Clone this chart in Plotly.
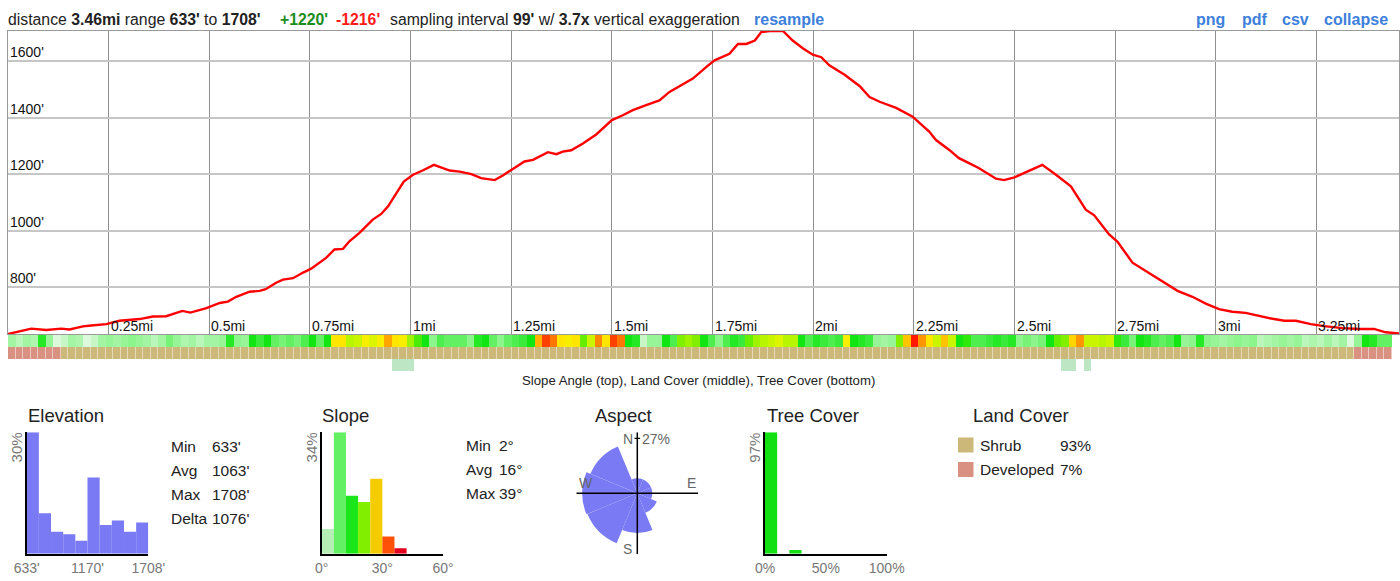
import numpy as np
import plotly.graph_objects as go

W, H = 1400, 581
FONT = "Liberation Sans, Arial, Helvetica, sans-serif"

# ---------------- data ----------------
dist_mi = [0.000, 0.058, 0.095, 0.132, 0.153, 0.186, 0.207, 0.244, 0.277, 0.327, 0.360, 0.393,
           0.433, 0.453, 0.493, 0.526, 0.546, 0.567, 0.600, 0.625, 0.640, 0.666, 0.683, 0.708,
           0.733, 0.753, 0.790, 0.811, 0.832, 0.848, 0.873, 0.906, 0.927, 0.944, 0.983, 1.006,
           1.031, 1.058, 1.097, 1.122, 1.151, 1.175, 1.209, 1.229, 1.250, 1.283, 1.304, 1.325,
           1.341, 1.362, 1.378, 1.399, 1.428, 1.461, 1.500, 1.527, 1.552, 1.585, 1.618, 1.643,
           1.668, 1.701, 1.734, 1.755, 1.792, 1.813, 1.834, 1.855, 1.871, 1.892, 1.925, 1.949,
           1.974, 1.999, 2.020, 2.040, 2.078, 2.115, 2.140, 2.165, 2.206, 2.247, 2.288, 2.305,
           2.338, 2.362, 2.387, 2.412, 2.454, 2.474, 2.500, 2.536, 2.569, 2.603, 2.640, 2.677,
           2.698, 2.735, 2.756, 2.793, 2.826, 2.868, 2.905, 2.942, 2.975, 3.008, 3.041, 3.074,
           3.095, 3.141, 3.170, 3.199, 3.236, 3.269, 3.315, 3.356, 3.393, 3.422, 3.455]
elev_ft = [633, 652, 647, 652, 649, 660, 663, 668, 680, 686, 695, 696,
           715, 709, 725, 743, 748, 765, 783, 786, 792, 815, 826, 831,
           851, 865, 903, 933, 935, 962, 992, 1039, 1059, 1086, 1174, 1198,
           1214, 1233, 1213, 1209, 1200, 1186, 1179, 1195, 1215, 1245, 1251, 1268,
           1278, 1271, 1280, 1285, 1309, 1341, 1392, 1409, 1427, 1445, 1462, 1492,
           1513, 1539, 1580, 1604, 1627, 1662, 1662, 1674, 1704, 1708, 1708, 1674,
           1647, 1624, 1615, 1586, 1553, 1513, 1474, 1457, 1435, 1404, 1351, 1321,
           1286, 1257, 1239, 1221, 1184, 1179, 1189, 1212, 1233, 1198, 1157, 1074,
           1054, 986, 960, 886, 857, 821, 786, 765, 741, 721, 712, 708,
           701, 687, 680, 680, 668, 661, 654, 651, 651, 639, 635]

dist_range = [0, 3.455]
elev_range = [633, 1708]

x_tick_vals = [0.25, 0.5, 0.75, 1.0, 1.25, 1.5, 1.75, 2.0, 2.25, 2.5, 2.75, 3.0, 3.25]
x_tick_text = ["0.25mi", "0.5mi", "0.75mi", "1mi", "1.25mi", "1.5mi", "1.75mi", "2mi",
               "2.25mi", "2.5mi", "2.75mi", "3mi", "3.25mi"]
y_tick_vals = [800, 1000, 1200, 1400, 1600]
y_tick_text = ["800'", "1000'", "1200'", "1400'", "1600'"]

# slope angle (degrees) for each sample cell along the route
slope_deg = [8, 6, 8, 7, 15, 9, 3, 5, 8, 7,
             3, 5, 8, 9, 8, 9, 10, 9, 8, 6,
             8, 11, 9, 7, 8, 6, 8, 8, 9, 15,
             10, 9, 16, 14, 16, 12, 11, 12, 11, 13,
             16, 12, 16, 27, 27, 22, 23, 26, 24, 26,
             31, 27, 26, 21, 18, 16, 10, 13, 12, 12, 12,
             10, 15, 16, 12, 10, 12, 13, 14, 16, 30,
             37, 34, 27, 26, 27, 19, 23, 33, 27, 37,
             34, 16, 15, 5, 9, 9, 16, 13, 20, 21,
             20, 16, 13, 10, 13, 15, 14, 19, 21, 22,
             23, 24, 22, 22, 16, 13, 15, 14, 13, 14,
             26, 16, 15, 14, 9, 8, 9, 20, 29, 39, 32, 27,
             23, 29, 23, 16, 17, 13, 13, 14, 15, 14,
             15, 10, 11, 10, 11, 16, 19, 20, 28, 32,
             23, 23, 22, 23, 17, 14, 11, 16, 15, 13,
             12, 13, 16, 9, 10, 15, 10, 9, 8, 9,
             10, 9, 10, 6, 7, 8, 9, 8, 9, 6,
             7, 6, 8, 6, 8, 3, 9, 16, 15, 12, 12]
# land cover per cell: 0 = Shrub, 1 = Developed
land_cover_code = [1] * 7 + [0] * 172 + [1] * 5
# tree cover (%) per cell
tree_cover_pct = [0] * 184
for i in (51, 52, 53, 140, 141, 143):
    tree_cover_pct[i] = 25

elev_hist_pct = [30, 10, 5.4, 4.8, 3.2, 18.8, 7.1, 8.2, 5.4, 7.7]
elev_hist_ticks = ["633'", "1170'", "1708'"]
slope_hist_pct = [6.9, 34, 16.2, 14.5, 21, 4.8, 1.5]
slope_hist_colors = ['#b5efb5', '#63f063', '#1ae61a', '#80f000', '#f4cc00', '#ff5208', '#e4001c']
tree_hist_pct = [97, 0, 3, 0, 0, 0, 0, 0, 0, 0]
aspect_dirs = [0, 45, 90, 135, 180, 225, 270, 315]
aspect_pct = [2, 2, 2, 4, 14, 26, 27, 23]

elev_stats = [("Min", "633'"), ("Avg", "1063'"), ("Max", "1708'"), ("Delta", "1076'")]
slope_stats = [("Min", "2°"), ("Avg", "16°"), ("Max", "39°")]
land_classes = [("Shrub", "93%", '#ccb879'), ("Developed", "7%", '#d99282')]

slope_scale = [[0 / 45, '#f2fff2'], [4 / 45, '#d4f7d4'], [7 / 45, '#aef5ae'], [10 / 45, '#8cf58c'],
               [13 / 45, '#4fee4f'], [16 / 45, '#12e612'], [19 / 45, '#66ee00'], [22 / 45, '#b8f500'],
               [25 / 45, '#eef500'], [27 / 45, '#ffe600'], [30 / 45, '#ffb300'], [33 / 45, '#ff8800'],
               [36 / 45, '#ff5500'], [39 / 45, '#ff1a00'], [45 / 45, '#e00000']]


# ---------------- helpers ----------------
def xdom(a, b):
    return [a / W, b / W]


def ydom(top, bottom):
    return [1 - bottom / H, 1 - top / H]


def px(a):
    return a / W


def py(b):
    return 1 - b / H


annotations = []


def text(x, y, s, size=14, color='#222', xanchor='left', yanchor='middle', angle=0):
    annotations.append(dict(x=px(x), y=py(y), xref='paper', yref='paper', text=s,
                            showarrow=False, xanchor=xanchor, yanchor=yanchor, textangle=angle,
                            borderpad=0, borderwidth=0,
                            font=dict(family=FONT, size=size, color=color)))


fig = go.Figure()

# main profile
fig.add_trace(go.Scatter(x=dist_mi, y=elev_ft, mode='lines', line=dict(color='#ff0000', width=2.4),
                         xaxis='x', yaxis='y', hoverinfo='skip', showlegend=False))

# strips
fig.add_trace(go.Heatmap(z=[slope_deg], xaxis='x2', yaxis='y2', colorscale=slope_scale,
                         zmin=0, zmax=45, showscale=False, hoverinfo='skip'))
fig.add_trace(go.Heatmap(z=[land_cover_code], xaxis='x3', yaxis='y3',
                         colorscale=[[0, '#ccb879'], [1, '#d99282']], zmin=0, zmax=1,
                         showscale=False, hoverinfo='skip', xgap=0.5))
fig.add_trace(go.Heatmap(z=[tree_cover_pct], xaxis='x4', yaxis='y4',
                         colorscale=[[0, '#ffffff'], [1, '#bde6c4']], zmin=0, zmax=25,
                         showscale=False, hoverinfo='skip'))

# elevation histogram
nb = len(elev_hist_pct)
bw = (elev_range[1] - elev_range[0]) / nb
elev_centers = [elev_range[0] + (k + 0.5) * bw for k in range(nb)]
fig.add_trace(go.Bar(x=elev_centers, y=elev_hist_pct, width=bw,
                     marker=dict(color='#7a7af5', line=dict(width=0)),
                     xaxis='x5', yaxis='y5', showlegend=False, hoverinfo='skip'))

# slope histogram
slope_centers = [3 + 6 * k for k in range(len(slope_hist_pct))]
fig.add_trace(go.Bar(x=slope_centers, y=slope_hist_pct, width=6,
                     marker=dict(color=slope_hist_colors, line=dict(width=0)),
                     xaxis='x6', yaxis='y6', showlegend=False, hoverinfo='skip'))

# tree cover histogram
tree_centers = [5 + 10 * k for k in range(len(tree_hist_pct))]
fig.add_trace(go.Bar(x=tree_centers, y=tree_hist_pct, width=10,
                     marker=dict(color='#13e013', line=dict(width=0)),
                     xaxis='x7', yaxis='y7', showlegend=False, hoverinfo='skip'))

# aspect rose (radius ~ sqrt of share)
rmax_pct = max(aspect_pct)
R_axis = np.sqrt(rmax_pct) * 61 / 55
fig.add_trace(go.Barpolar(r=np.sqrt(aspect_pct), theta=aspect_dirs, width=45,
                          marker=dict(color='#7a7af5', line=dict(width=0)),
                          subplot='polar', showlegend=False, hoverinfo='skip'))
for th in (0, 90):
    fig.add_trace(go.Scatterpolar(r=[R_axis, 0, R_axis], theta=[th, th, th + 180], mode='lines',
                                  line=dict(color='black', width=1.5), subplot='polar',
                                  showlegend=False, hoverinfo='skip'))
r0 = np.sqrt(rmax_pct)
d = 2.8 * R_axis / 61
a = np.degrees(np.arctan(d / r0))
fig.add_trace(go.Scatterpolar(r=[np.hypot(r0, d)] * 2, theta=[-a, a], mode='lines',
                              line=dict(color='black', width=1.2), subplot='polar',
                              showlegend=False, hoverinfo='skip'))

# ---------------- axes ----------------
hidden = dict(visible=False, fixedrange=True, automargin=False)
layout = dict(
    width=W, height=H, autosize=False,
    margin=dict(l=0, r=0, t=0, b=0, pad=0, autoexpand=False),
    paper_bgcolor='white', plot_bgcolor='white', showlegend=False,
    xaxis=dict(domain=xdom(8, 1399), range=dist_range, tickvals=x_tick_vals, showticklabels=False,
               ticks='', showgrid=True, gridcolor='#8e8e8e', gridwidth=1, zeroline=False,
               showline=True, mirror=True, linecolor='#9a9a9a', linewidth=1, automargin=False),
    yaxis=dict(domain=ydom(31, 334), range=elev_range, tickvals=y_tick_vals, showticklabels=False,
               ticks='', showgrid=True, gridcolor='#c6c6c6', gridwidth=1.5, zeroline=False,
               showline=True, mirror=True, linecolor='#9a9a9a', linewidth=1, automargin=False),
    xaxis2=dict(domain=xdom(8, 1392), range=[-0.5, len(slope_deg) - 0.5], anchor='y2', **hidden),
    yaxis2=dict(domain=ydom(335, 347), range=[-0.5, 0.5], anchor='x2', **hidden),
    xaxis3=dict(domain=xdom(8, 1392), range=[-0.5, len(slope_deg) - 0.5], anchor='y3', **hidden),
    yaxis3=dict(domain=ydom(347, 359), range=[-0.5, 0.5], anchor='x3', **hidden),
    xaxis4=dict(domain=xdom(8, 1392), range=[-0.5, len(slope_deg) - 0.5], anchor='y4', **hidden),
    yaxis4=dict(domain=ydom(359, 371), range=[-0.5, 0.5], anchor='x4', **hidden),
)

hist_x = dict(showline=True, linecolor='black', linewidth=2, ticks='', showgrid=False, zeroline=False,
              tickfont=dict(family=FONT, size=14, color='#777'), fixedrange=True, automargin=False)
hist_y = dict(showline=True, linecolor='black', linewidth=2, ticks='', showgrid=False, zeroline=False,
              showticklabels=False, fixedrange=True, automargin=False)

layout['xaxis5'] = dict(domain=xdom(26.7, 148.3), range=elev_range, anchor='y5',
                        tickvals=[elev_range[0], (elev_range[0] + elev_range[1]) / 2, elev_range[1]],
                        ticktext=elev_hist_ticks, **hist_x)
layout['yaxis5'] = dict(domain=ydom(432.3, 553.7), range=[0, max(elev_hist_pct)], anchor='x5', **hist_y)
layout['xaxis6'] = dict(domain=xdom(321.7, 443), range=[0, 60], anchor='y6',
                        tickvals=[0, 30, 60], ticktext=["0°", "30°", "60°"], **hist_x)
layout['yaxis6'] = dict(domain=ydom(432.3, 553.7), range=[0, max(slope_hist_pct)], anchor='x6', **hist_y)
layout['xaxis7'] = dict(domain=xdom(765, 886.7), range=[0, 100], anchor='y7',
                        tickvals=[0, 50, 100], ticktext=["0%", "50%", "100%"], **hist_x)
layout['yaxis7'] = dict(domain=ydom(432.3, 553.7), range=[0, max(tree_hist_pct)], anchor='x7', **hist_y)

layout['polar'] = dict(domain=dict(x=xdom(576.3, 698.3), y=ydom(432.3, 554.3)),
                       bgcolor='rgba(0,0,0,0)',
                       radialaxis=dict(visible=False, range=[0, R_axis]),
                       angularaxis=dict(visible=False, direction='clockwise', rotation=90))

# ---------------- texts ----------------
# header
HS = 15.8
text(8, 19.5, "distance <b>3.46mi</b> range <b>633'</b> to <b>1708'</b>", size=HS)
text(280, 19.5, "<b>+1220'</b>", color='#1e8c1e', size=HS)
text(336, 19.5, "<b>-1216'</b>", color='#ff1a1a', size=HS)
text(390, 19.5, "sampling interval <b>99'</b> w/ <b>3.7x</b> vertical exaggeration", size=HS)
blue = '#3d7fdb'
text(754, 19.5, "<b>resample</b>", color=blue, size=16)
for xx, s in ((1196, "png"), (1242, "pdf"), (1282, "csv"), (1324, "collapse")):
    text(xx, 19.5, "<b>%s</b>" % s, color=blue, size=16)

# main axis labels inside the plot
for v, t in zip(x_tick_vals, x_tick_text):
    annotations.append(dict(x=v, y=elev_range[0], xref='x', yref='y', text=t, showarrow=False,
                            xanchor='left', yanchor='bottom', xshift=2, yshift=0,
                            borderpad=0, borderwidth=0,
                            font=dict(family=FONT, size=14, color='#111')))
for v, t in zip(y_tick_vals, y_tick_text):
    annotations.append(dict(x=dist_range[0], y=v, xref='x', yref='y', text=t, showarrow=False,
                            xanchor='left', yanchor='bottom', xshift=2, yshift=1,
                            borderpad=0, borderwidth=0,
                            font=dict(family=FONT, size=14, color='#111')))

text(698, 380, "Slope Angle (top), Land Cover (middle), Tree Cover (bottom)", size=13.2,
     xanchor='center')

# panel titles
for xx, s in ((27.7, "Elevation"), (321.7, "Slope"), (595, "Aspect"), (766.7, "Tree Cover"),
              (972.7, "Land Cover")):
    text(xx, 415, s, size=18.5)

# vertical max labels
text(16.7, 447.7, "%d%%" % max(elev_hist_pct), size=15, color='#777', xanchor='center', angle=-90)
text(311.7, 447.7, "%d%%" % max(slope_hist_pct), size=15, color='#777', xanchor='center', angle=-90)
text(755, 447.7, "%d%%" % max(tree_hist_pct), size=15, color='#777', xanchor='center', angle=-90)

# stats
for k, (lab, val) in enumerate(elev_stats):
    yy = 446.7 + 24 * k
    text(171, yy, lab, size=15.5)
    text(212, yy, val, size=15.5)
for k, (lab, val) in enumerate(slope_stats):
    yy = 445.7 + 24 * k
    text(465.7, yy, lab, size=15.5)
    text(499, yy, val, size=15.5)

# aspect labels
text(627.5, 439, "N", size=14, color='#666', xanchor='center')
text(641.5, 439, "%d%%" % rmax_pct, size=14, color='#666')
text(585.5, 483, "W", size=14, color='#666', xanchor='center')
text(691, 483, "E", size=14, color='#666', xanchor='center')
text(627.5, 549, "S", size=14, color='#666', xanchor='center')

# land cover legend
shapes = []
for k, (lab, pct, col) in enumerate(land_classes):
    yy = 445 + 24.5 * k
    shapes.append(dict(type='rect', xref='paper', yref='paper', x0=px(958), x1=px(973.5),
                       y0=py(yy + 7.5), y1=py(yy - 7.5), fillcolor=col, line=dict(width=0)))
    text(980, yy, lab, size=15.5)
    text(1060, yy, pct, size=15.5)

layout['annotations'] = annotations
layout['shapes'] = shapes
fig.update_layout(**layout)

fig.write_html("out.html")
